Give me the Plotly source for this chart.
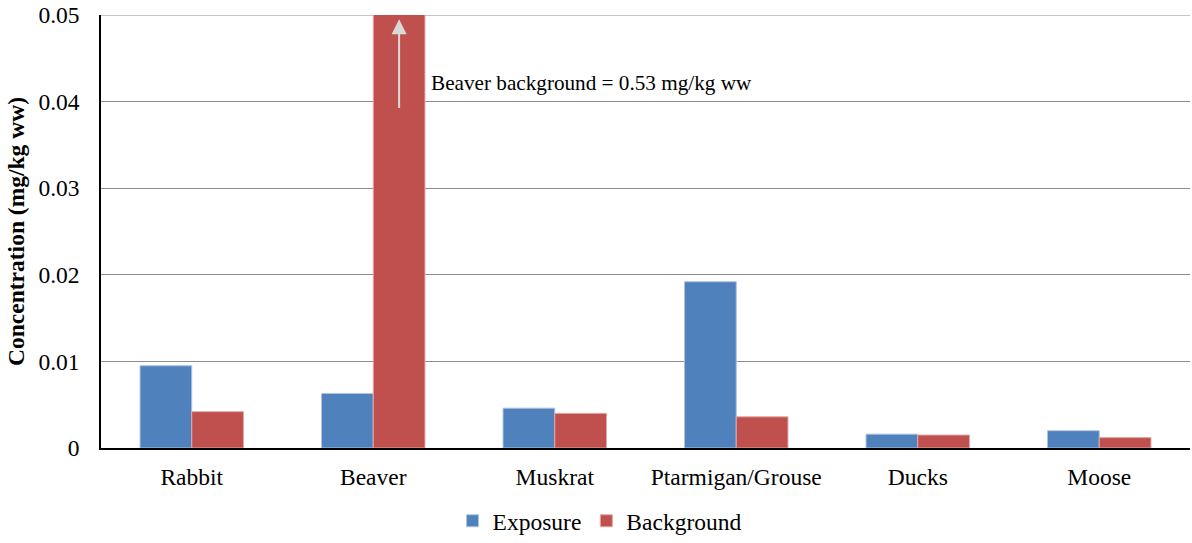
import plotly.graph_objects as go

categories = ["Rabbit", "Beaver", "Muskrat", "Ptarmigan/Grouse", "Ducks", "Moose"]
exposure = [0.0095, 0.0063, 0.0046, 0.0192, 0.0016, 0.0020]
background = [0.0042, 0.53, 0.0040, 0.0036, 0.0015, 0.0012]
y_ticks = [0, 0.01, 0.02, 0.03, 0.04, 0.05]
y_ticktext = ["0", "0.01", "0.02", "0.03", "0.04", "0.05"]

FONT = "Liberation Serif"
FS = 23.5

fig = go.Figure()
fig.add_trace(go.Bar(x=categories, y=exposure, name="Exposure",
                     marker=dict(color="#4F81BD", line=dict(color="#AFC4E0", width=1))))
fig.add_trace(go.Bar(x=categories, y=background, name="Background",
                     marker=dict(color="#C0504D", line=dict(color="#E0A8A6", width=1))))

# top gridline at the axis maximum
fig.add_shape(type="line", xref="paper", yref="y", x0=0, x1=1, y0=0.05, y1=0.05,
              line=dict(color="#8C8C8C", width=1), layer="below")

fig.add_annotation(x=1.1425, y=0.0495, ax=1.1425, ay=0.0391, xref="x", yref="y",
                   axref="x", ayref="y", text="", showarrow=True, arrowhead=2,
                   arrowsize=1.5, arrowwidth=2, arrowcolor="#D9D9D9")
fig.add_annotation(x=1.305, y=0.0422, xref="x", yref="y", text="Beaver background = 0.53 mg/kg ww",
                   showarrow=False, xanchor="left", yanchor="middle",
                   font=dict(family=FONT, size=21.2, color="black"))

fig.update_layout(
    width=1192, height=543,
    margin=dict(l=101, r=2, t=15, b=95, autoexpand=False),
    paper_bgcolor="white", plot_bgcolor="white",
    barmode="group", bargap=0.43, bargroupgap=0,
    font=dict(family=FONT, size=FS, color="black"),
    showlegend=True,
    legend=dict(orientation="h", x=0.503, xanchor="center", xref="container",
                y=0.0, yanchor="bottom", yref="container",
                font=dict(family=FONT, size=FS), itemwidth=30),
    xaxis=dict(showline=True, linecolor="black", linewidth=2, ticks="outside",
               ticklen=7, tickcolor="white", showgrid=False),
    yaxis=dict(range=[0, 0.05], tickvals=y_ticks, ticktext=y_ticktext,
               showline=True, linecolor="black", linewidth=1.5,
               showgrid=True, gridcolor="#8C8C8C", gridwidth=1, zeroline=False,
               ticks="outside", ticklen=15, tickcolor="white",
               ticklabeloverflow="allow",
               title=dict(text="<b>Concentration (mg/kg ww)</b>", standoff=7,
                          font=dict(family=FONT, size=FS))),
)

fig.write_html("out.html", config={"displayModeBar": False},
               post_script="document.body.style.margin='0';document.body.style.overflow='hidden';")
